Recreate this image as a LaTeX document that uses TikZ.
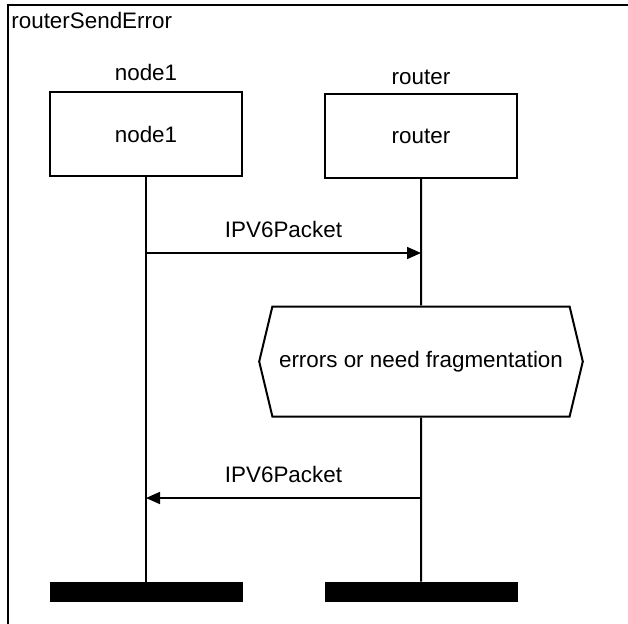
\documentclass[tikz,border=0pt]{standalone}
\usepackage{fontspec}
\setmainfont{Liberation Sans}
\usetikzlibrary{positioning,shapes.symbols,arrows.meta}
\tikzstyle{msg} = [-{Triangle[length=7pt,width=6pt]}, line width=0.8pt]
\tikzstyle{obj} = [draw, line width=1pt, minimum width=96pt, minimum height=42pt]
\tikzstyle{life} = [line width=1pt]
\tikzstyle{stopbar} = [fill=black, minimum width=96.5pt, minimum height=10pt, inner sep=0pt]
\tikzstyle{cond} = [draw, line width=1pt, signal, signal to=east and west, signal pointer angle=153, minimum width=161pt, minimum height=55pt]

\begin{document}
\begin{tikzpicture}[x=0.5pt, y=-0.5pt, font=\fontsize{11.2}{13}\selectfont]
		\useasboundingbox (0,0) rectangle (628,623);
		\clip (0,0) rectangle (628,623);
		\draw [line width=1pt] (8,5) rectangle (700,700);
		\node (title) [anchor=north west, inner sep=1pt] at (9,10) {routerSendError};

		\node (node1) [obj] at (146,134) {node1};
		\node (node1name) [above=1.5pt of node1] {node1};
		\node (router) [obj] at (421,136) {router};
		\node (routername) [above=0.5pt of router] {router};

		\node (frag) [cond] at (421,361.5) {errors or need fragmentation};
		\node (node1end) [stopbar] at (146,592) {};
		\node (routerend) [stopbar] at (421,592) {};

		\coordinate (n1m1) at (146,253);
		\coordinate (rtm1) at (421,253);
		\coordinate (n1m2) at (146,498);
		\coordinate (rtm2) at (421,498);

		\draw [life] (node1) -- (node1end);
		\draw [life] (router) -- (frag);
		\draw [life] (frag) -- (routerend);

		\draw [msg] (n1m1) -- node [above=4pt] {IPV6Packet} (rtm1);
		\draw [msg] (rtm2) -- node [above=4pt] {IPV6Packet} (n1m2);
	\end{tikzpicture}
\end{document}
